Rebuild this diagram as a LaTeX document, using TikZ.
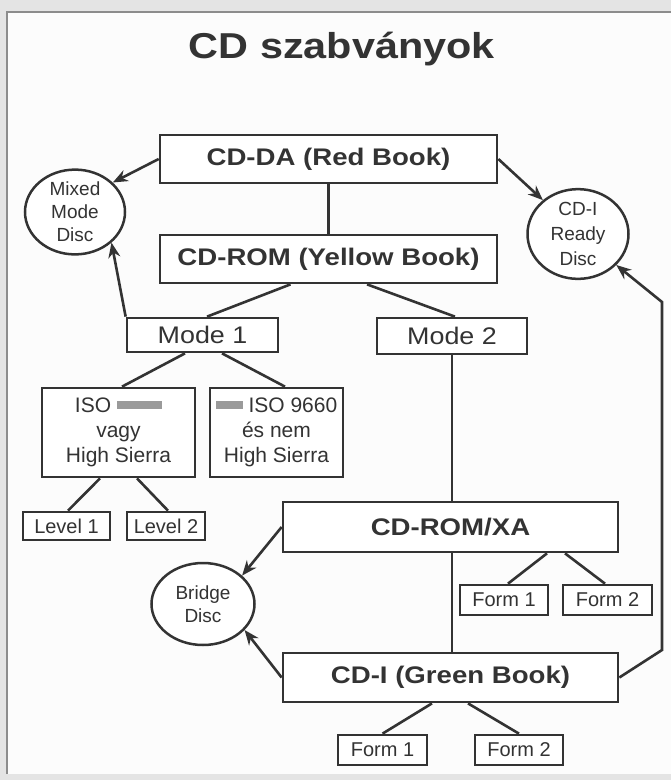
\documentclass[tikz,border=0pt]{standalone}
\usepackage{fontspec}
\setmainfont{Liberation Sans}
\usetikzlibrary{arrows.meta,shapes.geometric}
\definecolor{ink}{HTML}{333333}
\definecolor{outerbg}{HTML}{E4E4E4}
\definecolor{panelbg}{HTML}{FCFCFC}
\definecolor{framec}{HTML}{8C8C8C}
\definecolor{barc}{HTML}{9A9A9A}
\newcommand{\bt}[1]{\fontsize{24}{28}\selectfont\bfseries\scalebox{1.15}[1]{#1}}
\newcommand{\rt}[1]{\fontsize{24}{28}\selectfont\scalebox{1.12}[1]{#1}}
\newcommand{\graybar}[1]{\textcolor{barc}{\rule[3.5pt]{#1}{8pt}}}
\tikzset{
  bbox/.style={draw=ink, line width=2.7pt, fill=white, rectangle, inner sep=0pt, text=ink, align=center},
  disc/.style={draw=ink, line width=2.5pt, fill=white, ellipse, inner sep=0pt, text=ink, align=center},
  conn/.style={draw=ink, line width=2.6pt},
  arr/.style={conn, -{Stealth[length=15pt,width=12pt]}},
  smalltxt/.style={font=\fontsize{20}{24}\selectfont},
  isotxt/.style={font=\fontsize{21}{25}\selectfont},
  disctxt/.style={font=\fontsize{19}{23}\selectfont},
}
\begin{document}
\begin{tikzpicture}[x=1pt,y=-1pt]
\useasboundingbox (0,0) rectangle (671,780);
\fill[outerbg] (0,0) rectangle (671,780);
\fill[panelbg] (7,12) rectangle (671,774);
\draw[framec, line width=1.6pt] (7,774) -- (7,12) -- (671,12);

\node[text=ink, anchor=base, font=\fontsize{36}{40}\selectfont\bfseries] (title) at (342,58) {\scalebox{1.15}[1]{CD szabványok}};

% boxes
\node[bbox, minimum width=337pt, minimum height=48pt] (cdda) at (328.5,159) {\bt{CD-DA (Red Book)}};
\node[bbox, minimum width=337pt, minimum height=48pt] (cdrom) at (328.5,259) {\bt{CD-ROM (Yellow Book)}};
\node[bbox, minimum width=151pt, minimum height=34pt] (mode1) at (202.5,335) {\rt{Mode 1}};
\node[bbox, minimum width=150pt, minimum height=36pt] (mode2) at (452,336) {\rt{Mode 2}};
\node[bbox, isotxt, minimum width=153pt, minimum height=89pt] (iso1) at (118.5,432.5) {ISO \graybar{45pt}\\vagy\\High Sierra};
\node[bbox, isotxt, minimum width=133pt, minimum height=89pt] (iso2) at (276.5,432.5) {\graybar{27pt} ISO 9660\\és nem\\High Sierra};
\node[bbox, smalltxt, minimum width=87pt, minimum height=28pt] (lev1) at (66.5,526) {Level 1};
\node[bbox, smalltxt, minimum width=78pt, minimum height=28pt] (lev2) at (166,526) {Level 2};
\node[bbox, minimum width=335pt, minimum height=50pt] (xa) at (450.5,527) {\bt{CD-ROM/XA}};
\node[bbox, minimum width=335pt, minimum height=49pt] (cdi) at (450.5,677.5) {\bt{CD-I (Green Book)}};
\node[bbox, smalltxt, minimum width=88pt, minimum height=30pt] (f1a) at (504,600) {Form 1};
\node[bbox, smalltxt, minimum width=89pt, minimum height=30pt] (f2a) at (607.5,600) {Form 2};
\node[bbox, smalltxt, minimum width=89pt, minimum height=30pt] (f1b) at (382.5,750) {Form 1};
\node[bbox, smalltxt, minimum width=88pt, minimum height=30pt] (f2b) at (519,750) {Form 2};

% discs
\node[disc, disctxt, minimum width=100pt, minimum height=84pt] (mixed) at (75,212) {Mixed\\Mode\\Disc};
\node[disc, font=\fontsize{19}{25}\selectfont, minimum width=101pt, minimum height=85pt] (ready) at (578,234) {CD-I\\Ready\\Disc};
\node[disc, disctxt, minimum width=103pt, minimum height=82pt] (bridge) at (203,604) {Bridge\\Disc};

\coordinate (rb) at (662,650);
\coordinate (rt) at (662,302);

% plain connectors
\draw[conn] (cdda.south) -- (cdrom.north);
\draw[conn] ([xshift=-38pt]cdrom.south) -- ([xshift=4.5pt]mode1.north);
\draw[conn] ([xshift=38.5pt]cdrom.south) -- ([xshift=3pt]mode2.north);
\draw[conn] ([xshift=-17.5pt]mode1.south) -- ([xshift=3.5pt]iso1.north);
\draw[conn] ([xshift=19.5pt]mode1.south) -- ([xshift=8.5pt]iso2.north);
\draw[conn] ([xshift=-18.5pt]iso1.south) -- ([xshift=1.5pt]lev1.north);
\draw[conn] ([xshift=18.5pt]iso1.south) -- ([xshift=2pt]lev2.north);
\draw[conn] (mode2.south) -- (mode2.south |- xa.north);
\draw[conn] ([xshift=1.5pt]xa.south) -- ([xshift=1.5pt]cdi.north);
\draw[conn] ([xshift=96.5pt]xa.south) -- ([xshift=4pt]f1a.north);
\draw[conn] ([xshift=114.5pt]xa.south) -- ([xshift=-2.5pt]f2a.north);
\draw[conn] ([xshift=-18.5pt]cdi.south) -- (f1b.north);
\draw[conn] ([xshift=17.5pt]cdi.south) -- (f2b.north);

% arrows
\draw[arr] (cdda.west) -- (mixed.38);
\draw[arr] (mode1.north west) -- (mixed.-40);
\draw[arr] (cdda.east) -- (ready.136);
\draw[arr, line join=miter] (cdi.east) -- (rb) -- (rt) -- (ready.-39);
\draw[arr] (xa.west) -- (bridge.36);
\draw[arr] (cdi.west) -- (bridge.-32);
\end{tikzpicture}
\end{document}
